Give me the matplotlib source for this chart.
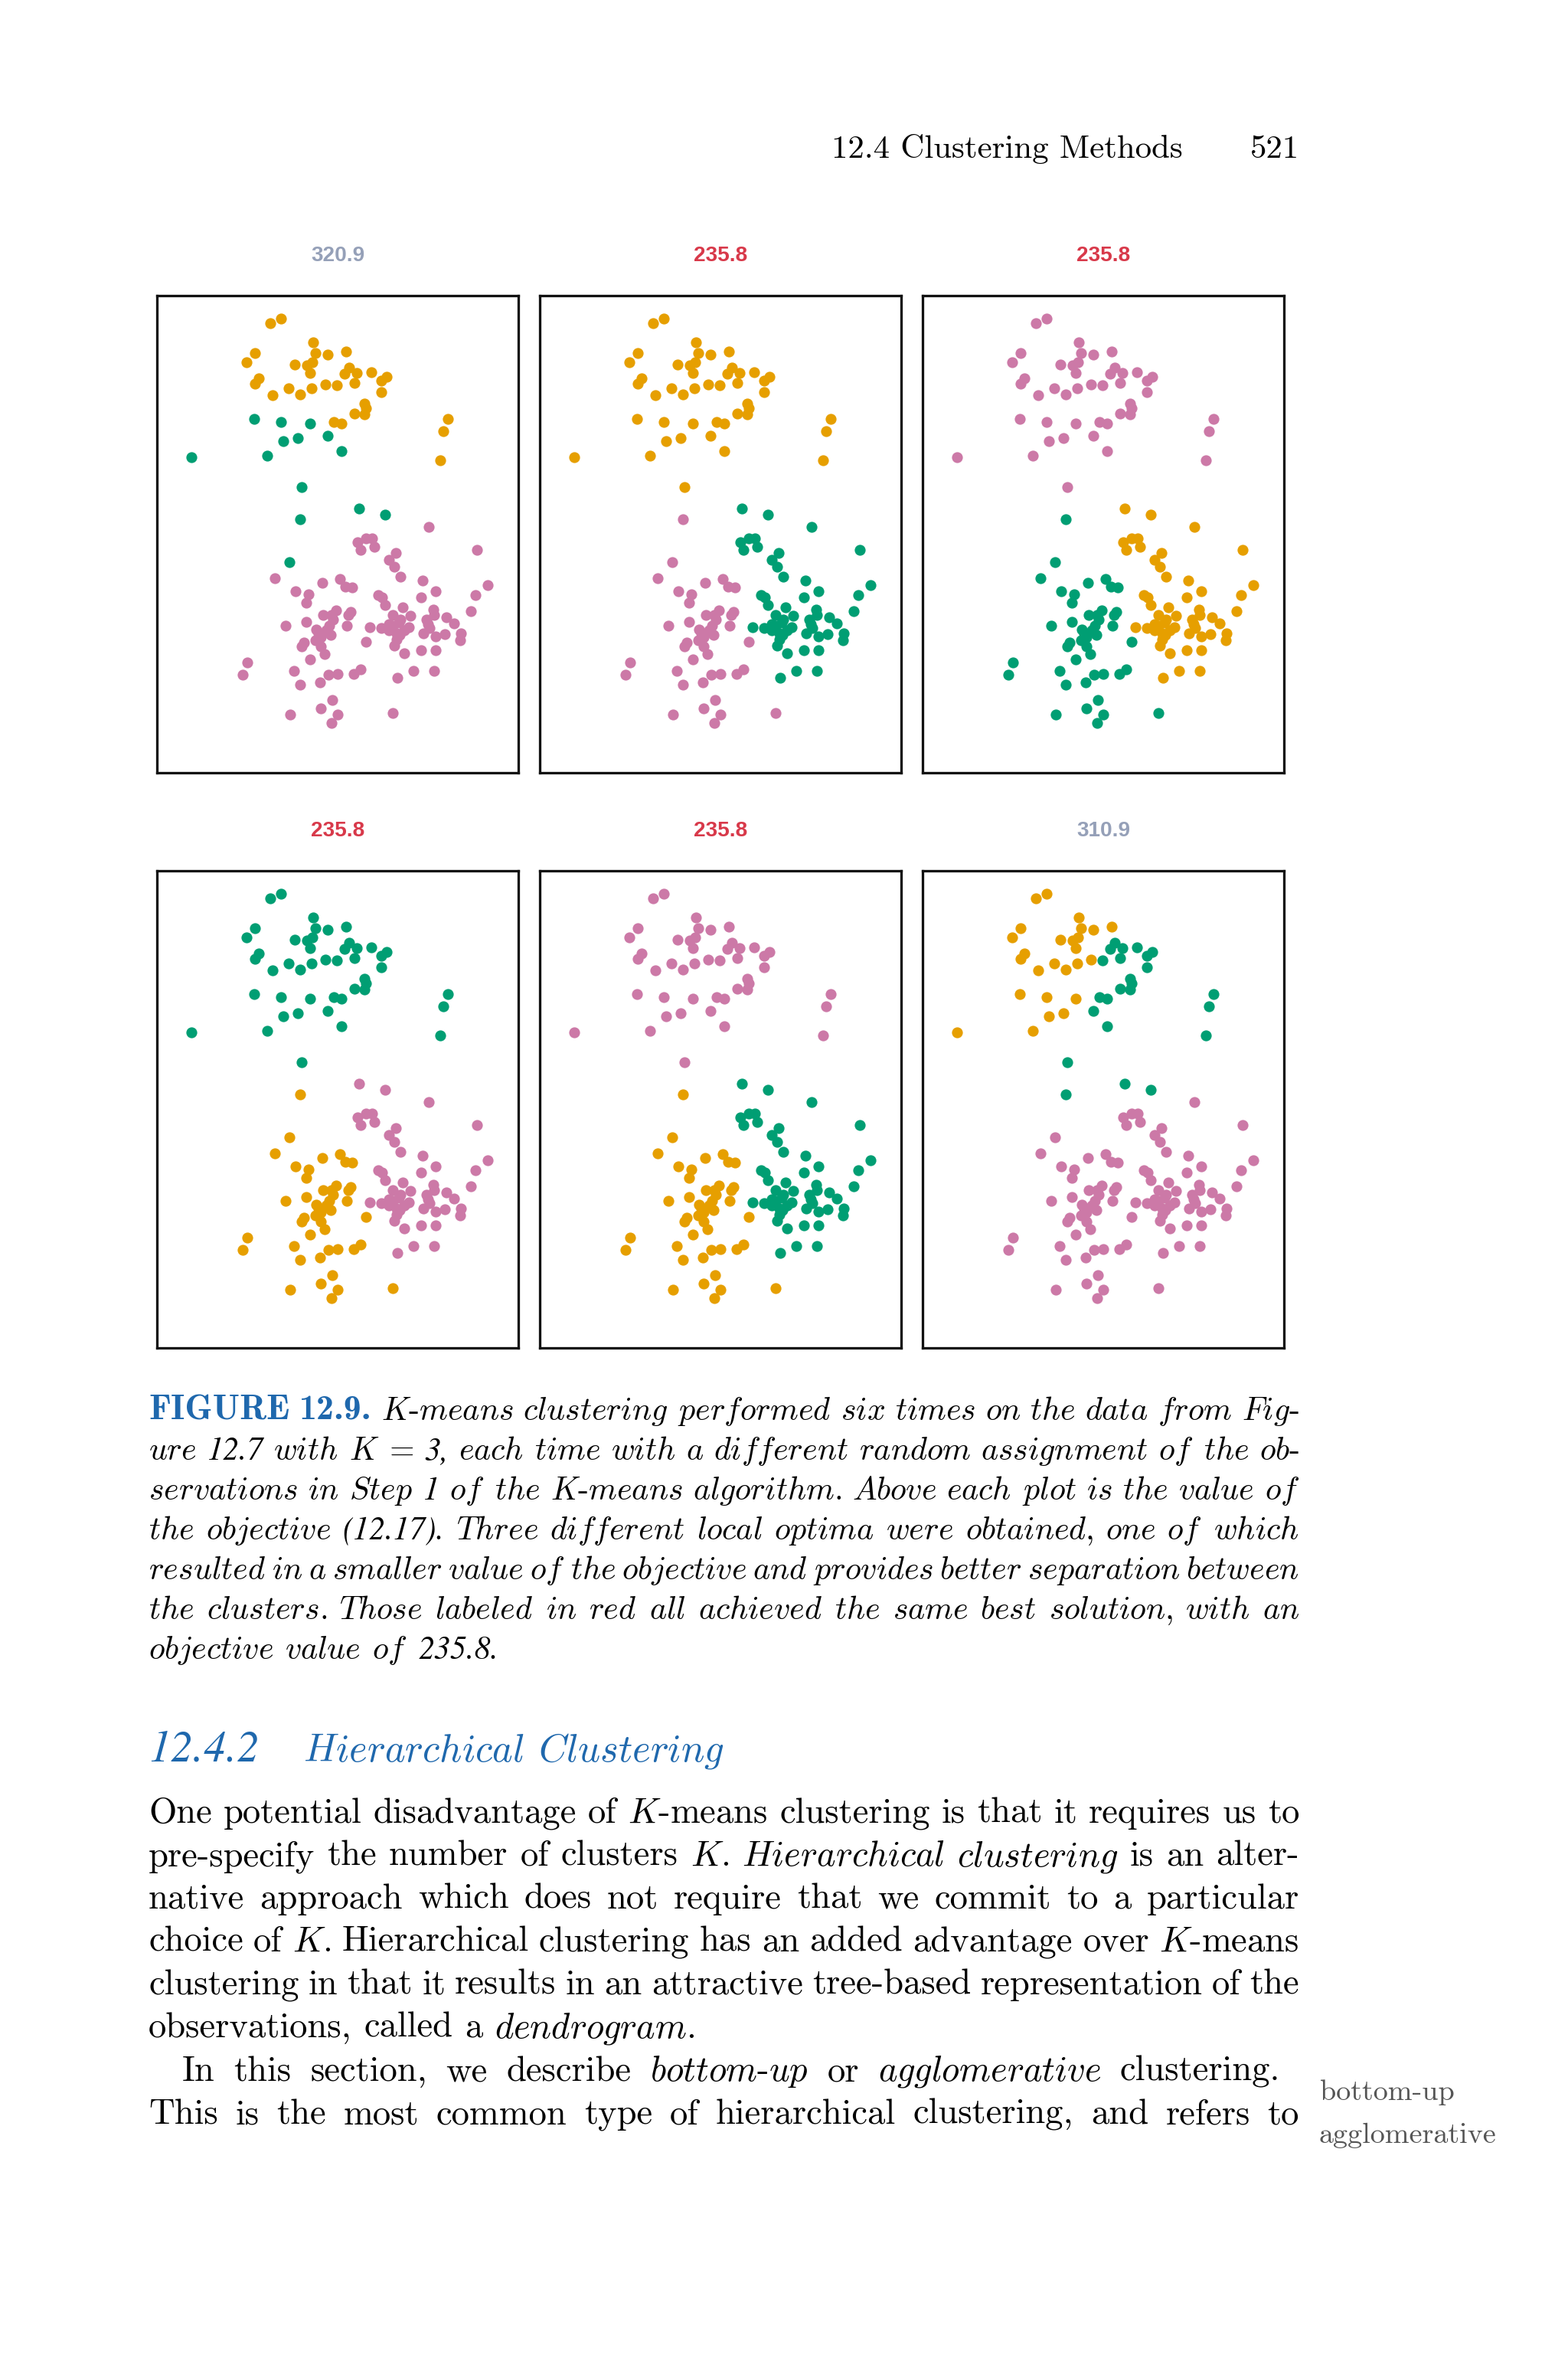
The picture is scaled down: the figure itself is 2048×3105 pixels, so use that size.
import re
import matplotlib
matplotlib.use("Agg")
import matplotlib.pyplot as plt

plt.rcParams["mathtext.fontset"] = "cm"
plt.rcParams["axes.formatter.use_mathtext"] = True

# ---------------- data ----------------
# observation coordinates (arbitrary units, y grows downward)
x_vals = [440, 484, 608, 380, 348, 617, 666, 738, 537, 585, 605, 597, 750, 733, 780, 772, 838, 897, 877,
          395, 380, 512, 450, 558, 604, 656, 703, 877, 810, 815, 772, 810, 690, 720, 1138, 1118, 1107,
          377, 483, 598, 550, 491, 666, 428, 720, 133, 563, 557, 790, 892, 517,
          1063, 783, 815, 840, 848, 795, 933, 905, 928, 952, 1250, 1038, 1088, 1033, 1293, 1245, 1228,
          458, 645, 715, 735, 762, 540, 592, 583, 865, 880, 890, 700, 680, 648, 755, 748, 500, 583, 740,
          622, 630, 660, 677, 672, 830, 875, 905, 920, 960, 990, 945, 985, 935, 935, 928, 965, 1080, 1083,
          1053, 1065, 1040, 1130, 1160, 1088, 1125, 1188, 1185, 815, 618, 572, 565, 640, 655, 598, 1033,
          1090, 350, 333, 535, 558, 637, 668, 705, 768, 795, 938, 1003, 1083, 683, 640, 705, 682, 518, 920,
          950, 922, 965, 948, 905, 1058, 640, 688]
y_vals = [95, 78, 170, 213, 250, 213, 218, 207, 258, 262, 250, 290, 270, 295, 292, 330, 288, 305, 322,
          312, 333, 350, 377, 374, 352, 335, 340, 367, 412, 428, 450, 452, 482, 490, 470, 520, 632,
          472, 483, 490, 546, 558, 538, 616, 596, 621, 738, 865, 823, 847, 1031,
          895, 955, 940, 940, 972, 985, 995, 1022, 1050, 1090, 983, 1105, 1147, 1170, 1123, 1162, 1223,
          1095, 1113, 1098, 1128, 1132, 1147, 1158, 1192, 1162, 1170, 1200, 1220, 1240, 1238, 1227, 1240,
          1282, 1267, 1280, 1295, 1310, 1300, 1317, 1280, 1288, 1290, 1300, 1240, 1208, 1243, 1270, 1288,
          1310, 1335, 1360, 1388, 1217, 1240, 1258, 1290, 1312, 1247, 1273, 1322, 1315, 1312, 1338, 1345,
          1338, 1347, 1362, 1362, 1392, 1413, 1378, 1378, 1425, 1472, 1458, 1512, 1502, 1472, 1470, 1470,
          1453, 1485, 1458, 1458, 1572, 1605, 1630, 1662, 1628, 1623, 1258, 1282, 1300, 1318, 1275, 1275,
          1325, 1258]

n_top_upper, n_top_lower = 37, 14
# clustering 1 (objective 320.9): 0 = upper part of top group, 1 = lower part of top group, 2 = bottom group
sol_a = [0] * n_top_upper + [1] * n_top_lower + [2] * (len(x_vals) - n_top_upper - n_top_lower)
# best clustering (objective 235.8): 0 = top, 1 = bottom-left, 2 = bottom-right
sol_b = ([0] * 47 + [1, 2, 2, 1] +
         [2, 2, 2, 2, 2, 2, 2, 2, 2, 2, 2, 2, 2, 2, 2, 2, 2,
          1, 1, 1, 1, 1, 1, 1, 1, 2, 2, 2, 1, 1, 1, 1, 1, 1, 1, 1,
          1, 1, 1, 1, 1, 2, 2, 2, 2, 2, 2, 2, 2, 2, 2, 2, 2, 2, 2,
          2, 2, 2, 2, 2, 2, 2, 2, 2, 1, 1, 1, 1, 1, 1, 1, 2,
          2, 1, 1, 1, 1, 1, 1, 1, 1, 1, 2, 2, 2, 1, 1, 1, 1, 1, 1,
          2, 2, 2, 2, 2, 2, 1, 1])
# clustering 6 (objective 310.9): 0 = top-left, 1 = top-right, 2 = bottom
sol_c = ([0] * 12 + [1] * 7 + [0] * 7 + [1] * 11 +
         [0, 0, 0, 0, 0, 1, 0, 1, 0, 1, 1, 1, 1, 2] +
         [2] * (len(x_vals) - 51))

titles = ["320.9", "235.8", "235.8", "235.8", "235.8", "310.9"]
title_is_best = [False, True, True, True, True, False]

ORANGE, GREEN, PURPLE = "#E69F00", "#009E73", "#CC79A7"
panel_solutions = [sol_a, sol_b, sol_b, sol_b, sol_b, sol_c]
panel_palettes = [[ORANGE, GREEN, PURPLE], [ORANGE, PURPLE, GREEN], [PURPLE, GREEN, ORANGE],
                  [GREEN, ORANGE, PURPLE], [PURPLE, ORANGE, GREEN], [ORANGE, GREEN, PURPLE]]

# ---------------- figure ----------------
W, H = 2048, 3105
DPI = 256
S = 335.6 / DPI          # page points -> matplotlib points
fig = plt.figure(figsize=(W / DPI, H / DPI), dpi=DPI)
fig.patch.set_facecolor("white")

lefts = [205, 705, 1205]
tops = [386, 1137]
BW, BH = 472, 623
RED, GREY = "#d8394a", "#95a0b8"

for k in range(6):
    r, c = divmod(k, 3)
    L, T = lefts[c], tops[r]
    ax = fig.add_axes([L / W, 1 - (T + BH) / H, BW / W, BH / H])
    sol = panel_solutions[k]
    pal = panel_palettes[k]
    for g in range(3):
        xs = [x for x, s in zip(x_vals, sol) if s == g]
        ys = [y for y, s in zip(y_vals, sol) if s == g]
        ax.plot(xs, ys, "o", color=pal[g], markersize=4.0, markeredgewidth=0)
    ax.set_xlim(-3, 1413)
    ax.set_ylim(1857, -12)
    ax.set_xticks([])
    ax.set_yticks([])
    for sp in ax.spines.values():
        sp.set_linewidth(0.7 * S)
        sp.set_color("#111111")
    fig.text((L + BW / 2) / W, 1 - (T - 52) / H, titles[k],
             family="Liberation Sans", weight="bold", fontsize=6.0 * S,
             color=RED if title_is_best[k] else GREY, ha="center", va="center")

# ---------------- page text ----------------
renderer = fig.canvas.get_renderer()
BLUE = "#1f68ad"


def fx(px):
    return px / W


def fy(py):
    return 1 - py / H


def make_word(tok, style, size, color):
    kw = dict(fontsize=size * S, color=color, va="baseline", ha="left")
    if style == "bf":
        return fig.text(0, 0, tok, family="cmb10", fontsize=size * 1.1 * S, color=color,
                        va="baseline", ha="left")
    if style == "it" and "$" not in tok:
        if re.search("[A-Za-z]", tok):
            s = ""
            for run in re.findall(r"[A-Za-z]+|[^A-Za-z]+", tok):
                s += (r"$\mathit{" + run + "}$") if run[0].isalpha() else run
            return fig.text(0, 0, s, family="cmr10", **kw)
        if re.search("[0-9]", tok):
            return fig.text(0, 0, tok, family="STIXGeneral", style="italic", **kw)
    return fig.text(0, 0, tok, family="cmr10", **kw)


def text_line(tokens, y, x0=194, x1=1697, justify=True, size=10, default="rm",
              color="black", space_em=0.333):
    texts = []
    for tok in tokens:
        style, col = default, color
        if tok.startswith("~"):
            style, tok = "it", tok[1:]
        elif tok.startswith("#"):
            style, tok, col = "bf", tok[1:], BLUE
        elif tok.startswith("^"):
            style, tok = "rm", tok[1:]
        texts.append(make_word(tok, style, size, col))
    widths = [t.get_window_extent(renderer).width for t in texts]
    em = size * 335.6 / 72
    if justify and len(texts) > 1:
        gap = (x1 - x0 - sum(widths)) / (len(texts) - 1)
    else:
        gap = space_em * em
    x = x0
    for t, w in zip(texts, widths):
        t.set_position((fx(x), fy(y)))
        x += w + gap


# running head
fig.text(fx(1086), fy(206), "12.4 Clustering Methods", family="cmr10", fontsize=9.2 * S,
         va="baseline", ha="left")
fig.text(fx(1697), fy(206), "521", family="cmr10", fontsize=9.2 * S, va="baseline", ha="right")

# caption
caption = [
    "#FIGURE #12.9. K-means clustering performed six times on the data from Fig-",
    "ure 12.7 with K ^= 3, each time with a different random assignment of the ob-",
    "servations in Step 1 of the K-means algorithm. Above each plot is the value of",
    "the objective (12.17). Three different local optima were obtained, one of which",
    "resulted in a smaller value of the objective and provides better separation between",
    "the clusters. Those labeled in red all achieved the same best solution, with an",
    "objective value of 235.8.",
]
for i, ln in enumerate(caption):
    text_line(ln.split(), 1854 + 52 * i, size=9, default="it",
              justify=(i < len(caption) - 1), space_em=0.36)

# section heading
fig.text(fx(194), fy(2300), "12.4.2", family="STIXGeneral", style="italic",
         fontsize=12.4 * S, color=BLUE, va="baseline")
text_line(["~Hierarchical", "~Clustering"], 2300, x0=396, size=10.9, color=BLUE,
          justify=False, space_em=0.36)

# body text
body = [
    ("One potential disadvantage of $K$-means clustering is that it requires us to", 194, 1697, True),
    ("pre-specify the number of clusters $K$. ~Hierarchical ~clustering is an alter-", 194, 1697, True),
    ("native approach which does not require that we commit to a particular", 194, 1697, True),
    ("choice of $K$. Hierarchical clustering has an added advantage over $K$-means", 194, 1697, True),
    ("clustering in that it results in an attractive tree-based representation of the", 194, 1697, True),
    ("observations, called a ~dendrogram.", 194, 1697, False),
    ("In this section, we describe ~bottom-up or ~agglomerative clustering.", 238, 1672, True),
    ("This is the most common type of hierarchical clustering, and refers to", 194, 1697, True),
]
body_y = [2380, 2436, 2492, 2548, 2604, 2660, 2717, 2773]
for (ln, x0, x1, just), yb in zip(body, body_y):
    text_line(ln.split(), yb, x0=x0, x1=x1, justify=just, size=10)

# margin notes
fig.text(fx(1724), fy(2742), "bottom-up", family="cmr10", fontsize=8.2 * S, color="#555555",
         va="baseline")
fig.text(fx(1722), fy(2798), "agglomerative", family="cmr10", fontsize=8.2 * S, color="#555555",
         va="baseline")

fig.savefig("out.png", dpi=DPI, facecolor="white")
